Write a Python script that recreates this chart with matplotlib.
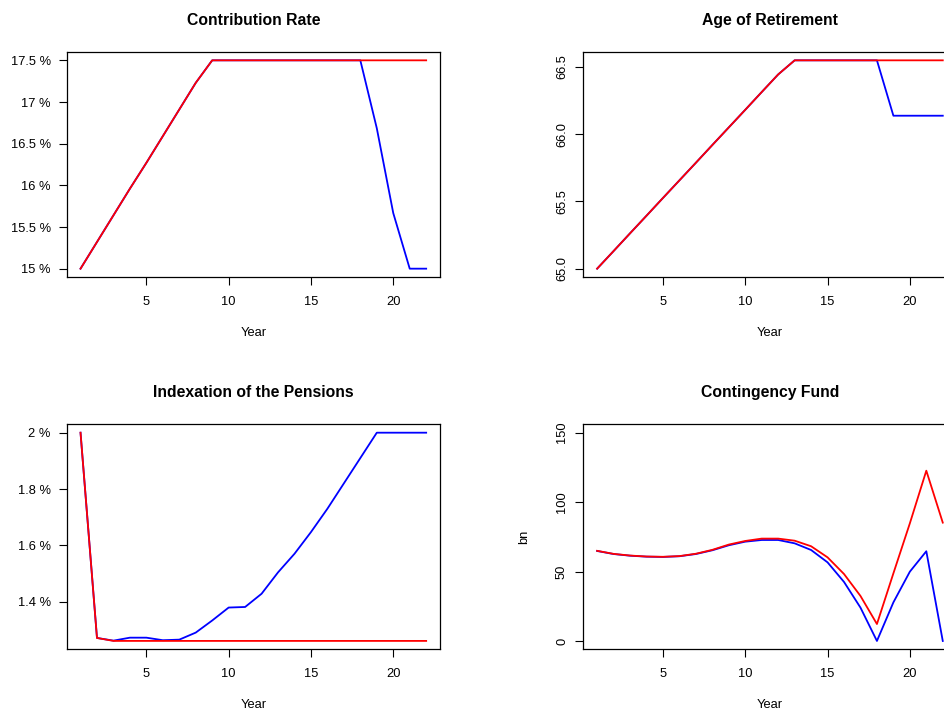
import matplotlib
matplotlib.use("Agg")
import matplotlib.pyplot as plt
from matplotlib.ticker import FuncFormatter

plt.rcParams['font.family'] = ['Liberation Sans', 'DejaVu Sans']

years = list(range(1, 23))

# contribution rate in percent
contrib_blue = [15.0, 15.32, 15.64, 15.96, 16.27, 16.59, 16.91, 17.23, 17.5, 17.5, 17.5,
                17.5, 17.5, 17.5, 17.5, 17.5, 17.5, 17.5, 16.685, 15.667, 15.0, 15.0]
contrib_red = [15.0, 15.32, 15.64, 15.96, 16.27, 16.59, 16.91, 17.23, 17.5, 17.5, 17.5,
               17.5, 17.5, 17.5, 17.5, 17.5, 17.5, 17.5, 17.5, 17.5, 17.5, 17.5]

# retirement age
age_blue = [65.0, 65.131, 65.263, 65.394, 65.526, 65.657, 65.788, 65.920, 66.051, 66.182,
            66.314, 66.445, 66.55, 66.55, 66.55, 66.55, 66.55, 66.55, 66.138, 66.138,
            66.138, 66.138]
age_red = [65.0, 65.131, 65.263, 65.394, 65.526, 65.657, 65.788, 65.920, 66.051, 66.182,
           66.314, 66.445, 66.55, 66.55, 66.55, 66.55, 66.55, 66.55, 66.55, 66.55,
           66.55, 66.55]

# pension indexation in percent
index_blue = [2.0, 1.271, 1.2615, 1.272, 1.272, 1.263, 1.265, 1.29, 1.333, 1.379, 1.381,
              1.428, 1.504, 1.570, 1.647, 1.730, 1.820, 1.910, 2.0, 2.0, 2.0, 2.0]
index_red = [2.0, 1.271, 1.2605, 1.2605, 1.2605, 1.2605, 1.2605, 1.2605, 1.2605, 1.2605,
             1.2605, 1.2605, 1.2605, 1.2605, 1.2605, 1.2605, 1.2605, 1.2605, 1.2605,
             1.2605, 1.2605, 1.2605]

# contingency fund, bn
fund_blue = [64.8, 62.6, 61.4, 60.7, 60.5, 61.0, 62.6, 65.3, 68.9, 71.5, 72.7, 72.7,
             70.3, 65.5, 56.6, 42.5, 24.0, 0.0, 27.8, 49.9, 64.6, 0.0]
fund_red = [64.9, 62.7, 61.5, 60.8, 60.6, 61.1, 62.8, 65.6, 69.4, 72.0, 73.7, 73.7,
            72.2, 68.2, 60.2, 48.2, 32.4, 12.2, 48.7, 84.7, 122.6, 85.2]

W, H = 944, 711
fig = plt.figure(figsize=(W / 100, H / 100), dpi=100)


def make_axes(left, right, top, bottom):
    return fig.add_axes([left / W, 1 - bottom / H, (right - left) / W, (bottom - top) / H])


def style(ax, title, yticks, pct, rotate):
    ax.set_xlim(1 - 0.84, 22 + 0.84)
    ax.set_xticks([5, 10, 15, 20])
    ax.set_yticks(yticks)
    if pct:
        ax.yaxis.set_major_formatter(FuncFormatter(lambda v, p: f"{v:g} %"))
    else:
        ax.yaxis.set_major_formatter(FuncFormatter(lambda v, p: f"{v:g}"))
    ax.tick_params(axis='x', length=5.5, width=0.8, pad=8.3, labelsize=9.3)
    ax.tick_params(axis='y', length=5.5, width=0.8, pad=6.0 if not rotate else 5.5, labelsize=9.3)
    if rotate:
        for lab in ax.get_yticklabels():
            lab.set_rotation(90)
            lab.set_va('center')
    for s in ax.spines.values():
        s.set_linewidth(0.9)
    ax.text(0.5, 1.142, title, transform=ax.transAxes, ha='center', va='center',
            fontsize=11.3, fontweight='bold')
    ax.set_xlabel("Year", fontsize=9.3)
    ax.xaxis.set_label_coords(0.5, -0.2467)
    ax.xaxis.label.set_va('center')


lw = 1.3

ax1 = make_axes(66.7, 440, 52, 277)
ax1.plot(years, contrib_blue, color='blue', lw=lw)
ax1.plot(years, contrib_red, color='red', lw=lw)
ax1.set_ylim(15.0 - 0.1, 17.5 + 0.1)
style(ax1, "Contribution Rate", [15, 15.5, 16, 16.5, 17, 17.5], True, False)

ax2 = make_axes(583.3, 956.6, 52, 277)
ax2.plot(years, age_blue, color='blue', lw=lw)
ax2.plot(years, age_red, color='red', lw=lw)
ax2.set_ylim(65.0 - 0.062, 66.55 + 0.062)
style(ax2, "Age of Retirement", [65.0, 65.5, 66.0, 66.5], False, True)
ax2.yaxis.set_major_formatter(FuncFormatter(lambda v, p: f"{v:.1f}"))

ax3 = make_axes(66.7, 440, 424.3, 649.3)
ax3.plot(years, index_blue, color='blue', lw=lw)
ax3.plot(years, index_red, color='red', lw=lw)
ax3.set_ylim(1.2605 - 0.0298, 2.0 + 0.0298)
style(ax3, "Indexation of the Pensions", [1.4, 1.6, 1.8, 2.0], True, False)

ax4 = make_axes(583.3, 956.6, 424.3, 649.3)
ax4.plot(years, fund_blue, color='blue', lw=lw)
ax4.plot(years, fund_red, color='red', lw=lw)
ax4.set_ylim(-6, 156)
style(ax4, "Contingency Fund", [0, 50, 100, 150], False, True)
ax4.set_ylabel("bn", fontsize=9.3)
ax4.yaxis.set_label_coords(-0.1428, 0.5)

fig.savefig("out.png", dpi=100)
